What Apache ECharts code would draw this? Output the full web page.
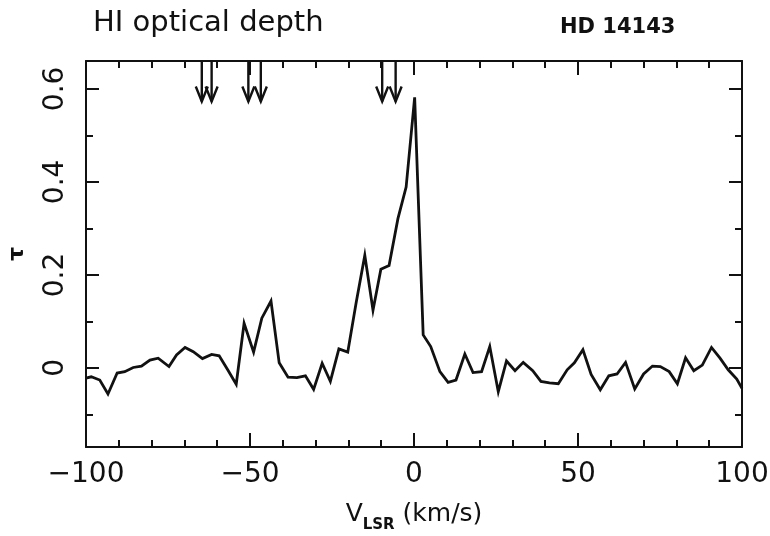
<!DOCTYPE html>
<html>
<head>
<meta charset="utf-8">
<script src="https://cdn.jsdelivr.net/npm/echarts@6/dist/echarts.min.js"></script>
<style>html,body{margin:0;padding:0;background:#fff}#c{width:770px;height:536px}</style>
</head>
<body>
<div id="c"></div>
<script>
// ---- data ----
const velocity = [-100, -98.4, -95.8, -93.3, -90.5, -88.2, -85.6, -83.1, -80.5, -78.0, -74.7, -72.4, -69.8, -67.3, -64.5, -61.7, -59.4, -56.8, -54.2, -51.8, -48.9, -46.4, -43.6, -41.1, -38.4, -35.7, -33.1, -30.6, -28.0, -25.5, -22.9, -20.2, -17.6, -15.0, -12.5, -10.1, -7.6, -4.9, -2.4, 0.2, 2.8, 5.1, 7.9, 10.4, 12.8, 15.5, 18.0, 20.6, 23.1, 25.7, 28.2, 30.8, 33.3, 36.2, 38.7, 41.3, 44.0, 46.7, 48.9, 51.5, 54.0, 56.8, 59.4, 61.9, 64.5, 67.3, 70.0, 72.7, 75.1, 77.8, 80.3, 82.8, 85.3, 87.9, 90.7, 93.3, 95.8, 98.4, 100];
const tau = [-0.022, -0.019, -0.026, -0.056, -0.011, -0.008, 0.001, 0.004, 0.017, 0.021, 0.003, 0.028, 0.044, 0.035, 0.020, 0.029, 0.026, -0.004, -0.035, 0.096, 0.034, 0.107, 0.144, 0.011, -0.020, -0.021, -0.017, -0.046, 0.010, -0.029, 0.041, 0.034, 0.142, 0.242, 0.124, 0.212, 0.220, 0.321, 0.389, 0.582, 0.071, 0.046, -0.008, -0.031, -0.026, 0.030, -0.010, -0.008, 0.046, -0.051, 0.015, -0.006, 0.012, -0.006, -0.029, -0.032, -0.034, -0.004, 0.011, 0.039, -0.014, -0.047, -0.017, -0.013, 0.012, -0.045, -0.013, 0.004, 0.003, -0.008, -0.034, 0.022, -0.006, 0.006, 0.044, 0.021, -0.004, -0.024, -0.044];
const arrowVelocity = [-64.7, -61.7, -50.5, -46.7, -9.7, -5.6];
const arrowTipTau = 0.573;
const yMajorTicks = [0, 0.2, 0.4, 0.6];
const yMinorTicks = [-0.1, 0.1, 0.3, 0.5];
const xMin = -100, xMax = 100, xInterval = 50;
const yMin = -0.17, yMax = 0.66;
const titleText = 'HI optical depth';
const starText = 'HD 14143';

// ---- chart ----
const FONT = 'DejaVu Sans';
const INK = '#111';
const chart = echarts.init(document.getElementById('c'), null, {renderer: 'canvas'});
const lineData = velocity.map((v, i) => [v, tau[i]]);

function yAxisDef(pos, ticks, len, showLine, showLabel) {
  return {
    type: 'value', position: pos, min: yMin, max: yMax,
    splitLine: {show: false},
    axisLine: {show: showLine, onZero: false, lineStyle: {color: INK, width: 2}},
    axisTick: {show: true, inside: true, length: len, customValues: ticks, lineStyle: {color: INK, width: 2}},
    axisLabel: showLabel ? {
      show: true, customValues: ticks, rotate: 90, margin: 16,
      fontFamily: FONT, fontSize: 28, color: INK,
      formatter: v => (Math.abs(v) < 1e-9 ? '0' : v.toFixed(1))
    } : {show: false}
  };
}
function xAxisDef(pos, showLabel) {
  return {
    type: 'value', position: pos, min: xMin, max: xMax, interval: xInterval,
    splitLine: {show: false},
    axisLine: {show: true, onZero: false, lineStyle: {color: INK, width: 2}},
    axisTick: {show: true, inside: true, length: 14, lineStyle: {color: INK, width: 2}},
    minorTick: {show: true, splitNumber: 5, length: 7, lineStyle: {color: INK, width: 2}},
    minorSplitLine: {show: false},
    axisLabel: showLabel ? {
      show: true, margin: 14, fontFamily: FONT, fontSize: 28, color: INK,
      formatter: v => String(v).replace('-', '\u2212')
    } : {show: false}
  };
}

const xBottom = xAxisDef('bottom', true);
xBottom.name = '{v|V}{s|LSR}{v| (km/s)}';
xBottom.nameLocation = 'middle';
xBottom.nameGap = 55;
xBottom.nameTextStyle = {
  rich: {
    v: {fontFamily: FONT, fontSize: 25, color: INK, verticalAlign: 'bottom'},
    s: {fontFamily: FONT, fontSize: 15, fontWeight: 'bold', color: INK, verticalAlign: 'bottom', padding: [0, 0, -6, 0]}
  }
};

const yLeft = yAxisDef('left', yMajorTicks, 13, true, true);
yLeft.name = '\u03C4';
yLeft.nameLocation = 'middle';
yLeft.nameRotate = 90;
yLeft.nameGap = 58;
yLeft.nameTextStyle = {fontFamily: FONT, fontSize: 22, fontWeight: 'bold', color: INK};

chart.setOption({
  backgroundColor: '#fff',
  animation: false,
  title: [
    {text: titleText, left: 88, top: 4, textStyle: {fontFamily: FONT, fontSize: 29, fontWeight: 'normal', color: INK}},
    {text: starText, left: 555, top: 12, textStyle: {fontFamily: FONT, fontSize: 21, fontWeight: 'bold', color: INK}}
  ],
  grid: {left: 86, right: 28, top: 61, bottom: 89, containLabel: false, outerBoundsMode: 'none'},
  xAxis: [xBottom, xAxisDef('top', false)],
  yAxis: [
    yLeft,
    yAxisDef('left', yMinorTicks, 7, false, false),
    yAxisDef('right', yMajorTicks, 13, true, false),
    yAxisDef('right', yMinorTicks, 7, false, false)
  ],
  series: [
    {
      type: 'line', xAxisIndex: 0, yAxisIndex: 0, data: lineData,
      showSymbol: false, symbol: 'none', smooth: false,
      lineStyle: {color: INK, width: 2.8, join: 'miter'}
    },
    {
      type: 'custom', xAxisIndex: 0, yAxisIndex: 0, clip: false,
      data: arrowVelocity.map(v => [v, arrowTipTau]),
      renderItem: function (params, api) {
        const v = api.value(0);
        const tip = api.coord([v, api.value(1)]);
        const top = api.coord([v, yMax]);
        const st = {stroke: INK, lineWidth: 2.4, fill: null};
        return {
          type: 'group',
          children: [
            {type: 'line', shape: {x1: top[0], y1: top[1], x2: tip[0], y2: tip[1]}, style: st},
            {type: 'polyline', shape: {points: [[tip[0] - 6, tip[1] - 15], tip, [tip[0] + 6, tip[1] - 15]]}, style: st}
          ]
        };
      }
    }
  ]
});
</script>
</body>
</html>
